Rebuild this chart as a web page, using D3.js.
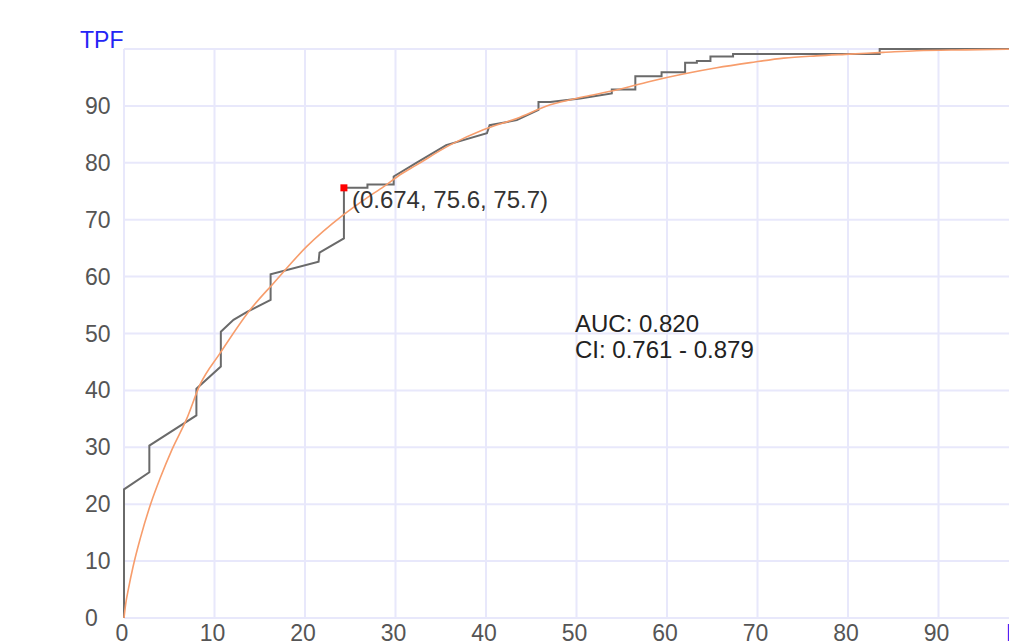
<!DOCTYPE html>
<meta charset="UTF-8">
<style>
	body {
		margin: 0;
		background: #fff;
		overflow: hidden;
	}

	.grid line {
		stroke: #e8e8fb;
		stroke-width: 2px;
	}

	.tick-label {
		font: 23px "Liberation Sans", Arial, sans-serif;
		fill: #555;
	}

	.empirical {
		fill: none;
		stroke: #6a6a6a;
		stroke-width: 2px;
	}

	.fitted {
		fill: none;
		stroke: #f79d6c;
		stroke-width: 1.6px;
	}

	.note {
		font: 24px "Liberation Sans", Arial, sans-serif;
		fill: #222;
	}
</style>

<body>
	<script src="https://cdn.jsdelivr.net/npm/d3@7"></script>
	<script>

		// tick values (percent)
		var xTicks = [0, 10, 20, 30, 40, 50, 60, 70, 80, 90, 100];
		var xLabels = [0, 10, 20, 30, 40, 50, 60, 70, 80, 90];
		var yTicks = [0, 10, 20, 30, 40, 50, 60, 70, 80, 90];

		// empirical ROC curve: false positive fraction / true positive fraction
		var empFPF = [0, 0, 2.8, 2.8, 8.0, 8.0, 10.7, 10.7, 12.1, 13.6, 16.2, 16.2, 21.5, 21.6, 24.3, 24.3,
			26.9, 26.9, 29.8, 29.8, 32.3, 35.6, 40.1, 40.4, 43.4, 45.8, 45.8, 47.1, 50.4, 53.9, 53.9, 56.5,
			56.5, 59.4, 59.4, 62.0, 62.0, 63.3, 63.3, 64.8, 64.8, 67.3, 67.3, 83.5, 83.5, 100];
		var empTPF = [0, 22.6, 25.6, 30.3, 35.6, 40.3, 44.2, 50.3, 52.4, 53.8, 55.9, 60.4, 62.6, 64.2, 66.7, 75.6,
			75.6, 76.2, 76.2, 77.6, 80.0, 83.1, 85.2, 86.6, 87.5, 89.3, 90.7, 90.7, 91.3, 92.2, 92.9, 92.9,
			95.2, 95.2, 95.9, 95.9, 97.6, 97.6, 97.9, 97.9, 98.7, 98.7, 99.1, 99.1, 100, 100];

		// fitted (smooth) ROC curve
		var fitFPF = [0, 0.2, 0.5, 1.0, 1.8, 3.0, 4.0, 5.3, 6.9, 8.4, 10.6, 13.9, 16.5, 20.2, 24.2, 26.8, 28.7,
			30.5, 32.3, 36.0, 39.7, 43.4, 47.1, 50.8, 54.4, 58.1, 61.8, 65.5, 69.2, 72.9, 76.5, 80.2, 83.9,
			87.6, 93.0, 100];
		var fitTPF = [0, 2.6, 5.2, 9.0, 14.0, 20.3, 24.6, 29.6, 34.9, 41.0, 46.5, 54.1, 58.8, 65.3, 70.8, 73.8, 75.8,
			77.9, 79.6, 83.1, 85.8, 87.8, 90.2, 91.6, 92.8, 94.3, 95.6, 96.7, 97.6, 98.4, 98.8, 99.1, 99.4,
			99.7, 99.85, 100];

		// selected operating point: criterion, TPF, specificity
		var pointCriterion = 0.674;
		var pointTPF = 75.6;
		var pointSpec = 75.7;

		var auc = "0.820";
		var ciLow = "0.761";
		var ciHigh = "0.879";

		var margin = { top: 49, left: 124 },
			width = 905,
			height = 569;

		var svg = d3.select("body").append("svg")
			.attr("width", 1009)
			.attr("height", 642);

		var g = svg.append("g")
			.attr("transform", "translate(" + margin.left + "," + margin.top + ")");

		var x = d3.scaleLinear().domain([0, 100]).range([0, width]);
		var y = d3.scaleLinear().domain([0, 100]).range([height, 0]);

		// grid
		var grid = g.append("g").attr("class", "grid");
		grid.selectAll("line.v")
			.data(xTicks)
			.enter().append("line")
			.attr("class", "v")
			.attr("x1", d => x(d)).attr("x2", d => x(d))
			.attr("y1", 0).attr("y2", height);
		grid.selectAll("line.h")
			.data(yTicks.concat([100]))
			.enter().append("line")
			.attr("class", "h")
			.attr("x1", 0).attr("x2", width)
			.attr("y1", d => y(d)).attr("y2", d => y(d));

		// y labels sit left-aligned in the margin
		svg.selectAll("text.ylab")
			.data(yTicks)
			.enter().append("text")
			.attr("class", "tick-label ylab")
			.attr("x", 85)
			.attr("y", d => margin.top + y(d) + 8)
			.text(d => d);

		svg.selectAll("text.xlab")
			.data(xLabels)
			.enter().append("text")
			.attr("class", "tick-label xlab")
			.attr("text-anchor", "middle")
			.attr("x", d => margin.left + x(d) - 2)
			.attr("y", 641)
			.text(d => d);

		svg.append("text")
			.attr("class", "tick-label")
			.attr("x", 80)
			.attr("y", 48)
			.style("fill", "#2424f5")
			.text("TPF");

		svg.append("text")
			.attr("class", "tick-label")
			.attr("x", 1006)
			.attr("y", 641)
			.style("fill", "#2424f5")
			.text("FPF");

		var line = d3.line()
			.x(d => x(d[0]))
			.y(d => y(d[1]));

		g.append("path")
			.attr("class", "empirical")
			.attr("d", line(d3.zip(empFPF, empTPF)));

		g.append("path")
			.attr("class", "fitted")
			.attr("d", line.curve(d3.curveMonotoneX)(d3.zip(fitFPF, fitTPF)));

		// operating point
		var px = x(100 - pointSpec), py = y(pointTPF);
		g.append("rect")
			.attr("x", px - 3.5)
			.attr("y", py - 3.5)
			.attr("width", 7)
			.attr("height", 7)
			.attr("fill", "#f00");
		g.append("text")
			.attr("class", "note")
			.attr("x", px + 8)
			.attr("y", py + 20)
			.style("fill", "#333")
			.text("(" + pointCriterion + ", " + pointTPF + ", " + pointSpec + ")");

		g.append("text")
			.attr("class", "note")
			.attr("x", 451)
			.attr("y", 283)
			.text("AUC: " + auc);
		g.append("text")
			.attr("class", "note")
			.attr("x", 451)
			.attr("y", 309)
			.text("CI: " + ciLow + " - " + ciHigh);

	</script>
</body>
